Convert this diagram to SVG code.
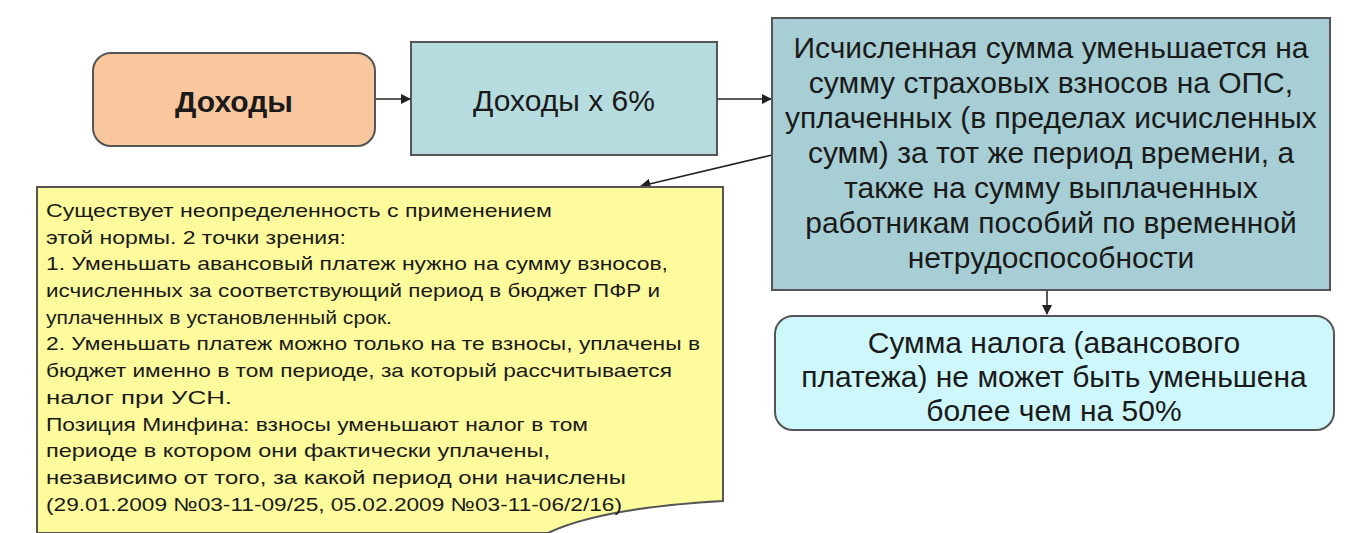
<svg xmlns="http://www.w3.org/2000/svg" width="1366" height="533" viewBox="0 0 1366 533">
<defs>
<style>
.b{stroke:#555;stroke-width:2}
.t{font-family:"Liberation Sans",Arial,sans-serif;fill:#1a1a1a}
.c{text-anchor:middle;font-size:30px}
.n{font-size:19px}
.l{stroke:#222;stroke-width:1.5;fill:none;marker-end:url(#a)}
</style>
<marker id="a" viewBox="0 0 10 10" refX="9" refY="5" markerWidth="7" markerHeight="7" orient="auto"><path d="M0,0 L10,5 L0,10 z" fill="#222"/></marker>
</defs>
<rect width="1366" height="533" fill="#fff"/>
<g id="connectors">
<line class="l" x1="375" y1="99" x2="410" y2="99"/>
<line class="l" x1="717" y1="99" x2="771" y2="99"/>
<line class="l" x1="772" y1="155" x2="641" y2="186"/>
<line class="l" x1="1047" y1="290" x2="1047" y2="314"/>
</g>
<g id="income">
<rect class="b" x="93" y="53" width="282" height="93" rx="18" fill="#f9c79d"/>
<text class="t c" x="234" y="112" font-weight="bold" font-size="36px">Доходы</text>
</g>
<g id="income6">
<rect class="b" x="411" y="42" width="306" height="113" fill="#b6dcdf"/>
<text class="t c" x="564" y="111" font-size="36px">Доходы х 6%</text>
</g>
<g id="reduce">
<rect class="b" x="772" y="18" width="558" height="272" fill="#a6ced4"/>
<text class="t c" x="1051" y="58">Исчисленная сумма уменьшается на</text>
<text class="t c" x="1051" y="93">сумму страховых взносов на ОПС,</text>
<text class="t c" x="1051" y="128">уплаченных (в пределах исчисленных</text>
<text class="t c" x="1051" y="163">сумм) за тот же период времени, а</text>
<text class="t c" x="1051" y="198">также на сумму выплаченных</text>
<text class="t c" x="1051" y="233">работникам пособий по временной</text>
<text class="t c" x="1051" y="268">нетрудоспособности</text>
</g>
<g id="limit">
<rect class="b" x="775" y="316" width="559" height="114" rx="18" fill="#cdf7fa"/>
<text class="t c" x="1054" y="353">Сумма налога (авансового</text>
<text class="t c" x="1054" y="387">платежа) не может быть уменьшена</text>
<text class="t c" x="1054" y="421">более чем на 50%</text>
</g>
<g id="note">
<path class="b" d="M37,187 L723,187 L723,501 Q600,508 548,533 L37,533 Z" fill="#fdfb9c" stroke-width="1.5"/>
<g class="t n">
<text x="46" y="217" textLength="506" lengthAdjust="spacingAndGlyphs">Существует неопределенность с применением</text>
<text x="46" y="244" textLength="300" lengthAdjust="spacingAndGlyphs">этой нормы. 2 точки зрения:</text>
<text x="46" y="270" textLength="622" lengthAdjust="spacingAndGlyphs">1. Уменьшать авансовый платеж нужно на сумму взносов,</text>
<text x="46" y="297" textLength="614" lengthAdjust="spacingAndGlyphs">исчисленных за соответствующий период в бюджет ПФР и</text>
<text x="46" y="324" textLength="346" lengthAdjust="spacingAndGlyphs">уплаченных в установленный срок.</text>
<text x="46" y="350" textLength="654" lengthAdjust="spacingAndGlyphs">2. Уменьшать платеж можно только на те взносы, уплачены в</text>
<text x="46" y="377" textLength="626" lengthAdjust="spacingAndGlyphs">бюджет именно в том периоде, за который рассчитывается</text>
<text x="46" y="404" textLength="186" lengthAdjust="spacingAndGlyphs">налог при УСН.</text>
<text x="46" y="431" textLength="542" lengthAdjust="spacingAndGlyphs">Позиция Минфина: взносы уменьшают налог в том</text>
<text x="46" y="457" textLength="504" lengthAdjust="spacingAndGlyphs">периоде в котором они фактически уплачены,</text>
<text x="46" y="484" textLength="580" lengthAdjust="spacingAndGlyphs">независимо от того, за какой период они начислены</text>
<text x="46" y="511" textLength="576" lengthAdjust="spacingAndGlyphs">(29.01.2009 №03-11-09/25, 05.02.2009 №03-11-06/2/16)</text>
</g>
</g>
</svg>
